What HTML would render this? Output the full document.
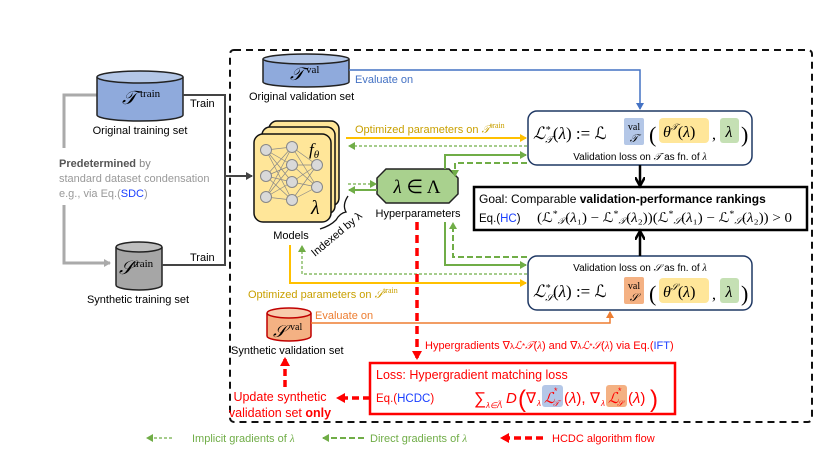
<!DOCTYPE html>
<html><head><meta charset="utf-8"><style>
html,body{margin:0;padding:0;background:#fff}
svg{display:block}
text{font-family:"Liberation Sans",sans-serif}
.m{font-family:"Liberation Serif",serif;font-style:italic}
.r{font-family:"Liberation Serif",serif}
</style></head><body>
<svg width="830" height="461" viewBox="0 0 830 461" xmlns="http://www.w3.org/2000/svg">
<defs>
<marker id="ak" markerWidth="8" markerHeight="8" refX="6" refY="4" orient="auto" markerUnits="userSpaceOnUse"><path d="M0,0 L7,4 L0,8 Z" fill="#444"/></marker>
<marker id="ag" markerWidth="8" markerHeight="8" refX="6" refY="4" orient="auto" markerUnits="userSpaceOnUse"><path d="M0,0 L7,4 L0,8 Z" fill="#aaa"/></marker>
<marker id="ab" markerWidth="8" markerHeight="8" refX="6" refY="4" orient="auto" markerUnits="userSpaceOnUse"><path d="M0,0 L7,4 L0,8 Z" fill="#4472c4"/></marker>
<marker id="ay" markerWidth="8" markerHeight="8" refX="6" refY="4" orient="auto" markerUnits="userSpaceOnUse"><path d="M0,0 L7,4 L0,8 Z" fill="#ffc000"/></marker>
<marker id="ao" markerWidth="8" markerHeight="8" refX="6" refY="4" orient="auto" markerUnits="userSpaceOnUse"><path d="M0,0 L7,4 L0,8 Z" fill="#ed7d31"/></marker>
<marker id="an" markerWidth="8" markerHeight="8" refX="6" refY="4" orient="auto" markerUnits="userSpaceOnUse"><path d="M0,0 L7,4 L0,8 Z" fill="#70ad47"/></marker>
<marker id="ar" markerWidth="10" markerHeight="10" refX="7" refY="5" orient="auto" markerUnits="userSpaceOnUse"><path d="M0,0 L9,5 L0,10 Z" fill="#ff0000"/></marker>
<marker id="abk" markerWidth="12" markerHeight="10" refX="8" refY="5" orient="auto" markerUnits="userSpaceOnUse"><path d="M0,0 L9,5 L0,10" fill="none" stroke="#000" stroke-width="2.5"/></marker>
</defs>

<rect x="230" y="50" width="582" height="372" rx="4" fill="none" stroke="#111" stroke-width="2" stroke-dasharray="7,5"/>

<path d="M97,95 H64 V148" fill="none" stroke="#aaa" stroke-width="3"/>
<path d="M64,205 V263 H110" fill="none" stroke="#aaa" stroke-width="3" marker-end="url(#ag)"/>
<text x="59" y="167" font-size="11" fill="#888"><tspan font-weight="bold" fill="#555">Predetermined</tspan> by</text>
<text x="59" y="182" font-size="11" fill="#999">standard dataset condensation</text>
<text x="59" y="197" font-size="11" fill="#999">e.g., via Eq.(<tspan fill="#1a3fff">SDC</tspan>)</text>

<path d="M97,77 V115 A43,6 0 0 0 183,115 V77" fill="#8faadc" stroke="#222" stroke-width="1.5"/>
<ellipse cx="140" cy="77" rx="43" ry="6" fill="#b4c7e7" stroke="#222" stroke-width="1.5"/>
<text x="122" y="104" class="m" font-size="19">𝒯</text><text x="140" y="97" class="r" font-size="11">train</text>
<text x="140" y="134" font-size="11" text-anchor="middle">Original training set</text>

<path d="M116,247 V285 A23,5 0 0 0 162,285 V247" fill="#a6a6a6" stroke="#222" stroke-width="1.5"/>
<ellipse cx="139" cy="247" rx="23" ry="5" fill="#bfbfbf" stroke="#222" stroke-width="1.5"/>
<text x="119" y="274" class="m" font-size="19">𝒮</text><text x="133" y="267" class="r" font-size="11">train</text>
<text x="138" y="303" font-size="11" text-anchor="middle">Synthetic training set</text>

<path d="M183,95 H225 V265 H162" fill="none" stroke="#444" stroke-width="2"/>
<path d="M225,176 H252" fill="none" stroke="#444" stroke-width="2" marker-end="url(#ak)"/>
<text x="190" y="107" font-size="11">Train</text>
<text x="190" y="261" font-size="11">Train</text>

<path d="M263,59 V82 A43,5 0 0 0 349,82 V59" fill="#8faadc" stroke="#222" stroke-width="1.5"/>
<ellipse cx="306" cy="59" rx="43" ry="5" fill="#b4c7e7" stroke="#222" stroke-width="1.5"/>
<text x="290" y="80" class="m" font-size="18">𝒯</text><text x="306" y="73" class="r" font-size="11">val</text>
<text x="249" y="100" font-size="11">Original validation set</text>
<path d="M349,70 H640 V109" fill="none" stroke="#4472c4" stroke-width="1.5" marker-end="url(#ab)"/>
<text x="355" y="83" font-size="11" fill="#4472c4">Evaluate on</text>

<rect x="269" y="121" width="70" height="85" rx="8" fill="#ffe699" stroke="#111" stroke-width="1.5"/>
<rect x="262" y="127" width="73" height="87" rx="8" fill="#ffe699" stroke="#111" stroke-width="1.5"/>
<rect x="254" y="134" width="77" height="88" rx="9" fill="#ffe699" stroke="#111" stroke-width="1.5"/>
<g stroke="#888" stroke-width="0.7">
<path d="M266,150 L292,147 M266,150 L292,165 M266,150 L292,182 M266,150 L292,200 M266,176 L292,147 M266,176 L292,165 M266,176 L292,182 M266,176 L292,200 M266,197 L292,147 M266,197 L292,165 M266,197 L292,182 M266,197 L292,200 M292,147 L317,165 M292,165 L317,165 M292,182 L317,165 M292,200 L317,165 M292,147 L317,187 M292,165 L317,187 M292,182 L317,187 M292,200 L317,187"/>
</g>
<g fill="#d9d9d9" stroke="#888">
<circle cx="266" cy="150" r="5.5"/><circle cx="266" cy="176" r="5.5"/><circle cx="266" cy="197" r="5.5"/>
<circle cx="292" cy="147" r="5.5"/><circle cx="292" cy="165" r="5.5"/><circle cx="292" cy="182" r="5.5"/><circle cx="292" cy="200" r="5.5"/>
<circle cx="317" cy="165" r="5.5"/><circle cx="317" cy="187" r="5.5"/>
</g>
<text x="309" y="155" class="m" font-size="17">f<tspan font-size="11" dy="3">θ</tspan></text>
<text x="311" y="214" class="m" font-size="20">λ</text>
<text x="291" y="239" font-size="11" text-anchor="middle">Models</text>
<path d="M320,229 Q330,226 336,220 Q340,213 346,212 Q342,205 348,196" fill="none" stroke="#111" stroke-width="1.3"/>
<text x="0" y="0" font-size="11" transform="translate(315,257) rotate(-40)">Indexed by λ</text>

<path d="M386,169 H449 L458,178 V194 L449,203 H386 L377,194 V178 Z" fill="#a9d18e" stroke="#222" stroke-width="1.5"/>
<text x="417" y="193" class="r" font-size="19" text-anchor="middle"><tspan font-style="italic">λ</tspan> ∈ Λ</text>
<text x="418" y="217" font-size="11" text-anchor="middle">Hyperparameters</text>

<path d="M348,184 H376" fill="none" stroke="#70ad47" stroke-width="1.2" stroke-dasharray="3,2" marker-end="url(#an)"/>
<path d="M377,190 H349" fill="none" stroke="#70ad47" stroke-width="2" marker-end="url(#an)"/>

<rect x="528" y="111" width="224" height="54" rx="9" fill="#fff" stroke="#1f3864" stroke-width="1.5"/>
<text x="533" y="139" class="m" font-size="17">ℒ<tspan font-size="10" dy="-6">*</tspan><tspan font-size="10" dx="-5" dy="10">𝒯</tspan><tspan font-style="normal" dy="-4">(</tspan>λ<tspan font-style="normal">) :=  ℒ</tspan></text>
<rect x="624" y="118" width="20" height="27" rx="2" fill="#b4c7e7"/>
<text x="634" y="130" class="r" font-size="10" text-anchor="middle">val</text>
<text x="634" y="142" class="m" font-size="11" text-anchor="middle">𝒯</text>
<text x="649" y="142" class="r" font-size="22">(</text>
<rect x="659" y="118" width="50" height="25" rx="4" fill="#ffe699"/>
<text x="663" y="137" class="m" font-size="16">θ<tspan font-size="9" dy="-7">𝒯</tspan><tspan font-style="normal" dy="7">(</tspan>λ<tspan font-style="normal">)</tspan></text>
<text x="712" y="139" class="r" font-size="16">,</text>
<rect x="720" y="118" width="19" height="25" rx="3" fill="#c5e0b4"/>
<text x="729" y="137" class="m" font-size="16" text-anchor="middle">λ</text>
<text x="741" y="142" class="r" font-size="22">)</text>
<text x="640" y="160" font-size="10" text-anchor="middle">Validation loss on <tspan font-family="Liberation Serif" font-style="italic">𝒯</tspan> as fn. of <tspan font-family="Liberation Serif" font-style="italic">λ</tspan></text>

<rect x="528" y="256" width="224" height="54" rx="9" fill="#fff" stroke="#1f3864" stroke-width="1.5"/>
<text x="640" y="271" font-size="10" text-anchor="middle">Validation loss on <tspan font-family="Liberation Serif" font-style="italic">𝒮</tspan> as fn. of <tspan font-family="Liberation Serif" font-style="italic">λ</tspan></text>
<text x="533" y="297" class="m" font-size="17">ℒ<tspan font-size="10" dy="-6">*</tspan><tspan font-size="10" dx="-5" dy="10">𝒮</tspan><tspan font-style="normal" dy="-4">(</tspan>λ<tspan font-style="normal">) :=  ℒ</tspan></text>
<rect x="624" y="277" width="20" height="27" rx="2" fill="#f4b183"/>
<text x="634" y="289" class="r" font-size="10" text-anchor="middle">val</text>
<text x="634" y="301" class="m" font-size="11" text-anchor="middle">𝒮</text>
<text x="649" y="301" class="r" font-size="22">(</text>
<rect x="659" y="278" width="50" height="25" rx="4" fill="#ffe699"/>
<text x="663" y="297" class="m" font-size="16">θ<tspan font-size="9" dy="-7">𝒮</tspan><tspan font-style="normal" dy="7">(</tspan>λ<tspan font-style="normal">)</tspan></text>
<text x="712" y="299" class="r" font-size="16">,</text>
<rect x="720" y="278" width="19" height="25" rx="3" fill="#c5e0b4"/>
<text x="729" y="297" class="m" font-size="16" text-anchor="middle">λ</text>
<text x="741" y="301" class="r" font-size="22">)</text>

<rect x="474" y="187" width="333" height="43" fill="#fff" stroke="#000" stroke-width="2.5"/>
<text x="479" y="203" font-size="12">Goal: Comparable <tspan font-weight="bold">validation-performance rankings</tspan></text>
<text x="479" y="222" font-size="11.5">Eq.(<tspan fill="#1a3fff">HC</tspan>)</text>
<text x="537" y="222" class="r" font-size="13.5" textLength="255" lengthAdjust="spacingAndGlyphs">(ℒ<tspan font-size="9" dy="-5">*</tspan><tspan font-size="9" font-style="italic" dy="7">𝒯</tspan><tspan dy="-2">(</tspan><tspan font-style="italic">λ</tspan>₁) − ℒ<tspan font-size="9" dy="-5">*</tspan><tspan font-size="9" font-style="italic" dy="7">𝒯</tspan><tspan dy="-2">(</tspan><tspan font-style="italic">λ</tspan>₂))(ℒ<tspan font-size="9" dy="-5">*</tspan><tspan font-size="9" font-style="italic" dy="7">𝒮</tspan><tspan dy="-2">(</tspan><tspan font-style="italic">λ</tspan>₁) − ℒ<tspan font-size="9" dy="-5">*</tspan><tspan font-size="9" font-style="italic" dy="7">𝒮</tspan><tspan dy="-2">(</tspan><tspan font-style="italic">λ</tspan>₂)) &gt; 0</text>
<path d="M640,165 V185" stroke="#000" stroke-width="2.5" marker-end="url(#abk)"/>
<path d="M640,256 V232" stroke="#000" stroke-width="2.5" marker-end="url(#abk)"/>

<path d="M346,138 H526" fill="none" stroke="#ffc000" stroke-width="2" marker-end="url(#ay)"/>
<text x="355" y="133" font-size="11" fill="#c9a000">Optimized parameters on <tspan font-family="Liberation Serif" font-style="italic">𝒯</tspan><tspan font-family="Liberation Serif" font-size="8" dy="-5">train</tspan></text>
<path d="M290,245 V283 H526" fill="none" stroke="#ffc000" stroke-width="2" marker-end="url(#ay)"/>
<text x="248" y="298" font-size="11" fill="#c9a000">Optimized parameters on <tspan font-family="Liberation Serif" font-style="italic">𝒮</tspan><tspan font-family="Liberation Serif" font-size="8" dy="-5">train</tspan></text>

<path d="M527,146 H349" fill="none" stroke="#70ad47" stroke-width="1.2" stroke-dasharray="3,2" marker-end="url(#an)"/>
<path d="M445,169 V155 H526" fill="none" stroke="#70ad47" stroke-width="2" marker-end="url(#an)"/>
<path d="M527,163 H455 V176" fill="none" stroke="#70ad47" stroke-width="2" stroke-dasharray="6,3" marker-end="url(#an)"/>
<path d="M445,222 V265 H526" fill="none" stroke="#70ad47" stroke-width="2" marker-end="url(#an)"/>
<path d="M527,257 H453 V223" fill="none" stroke="#70ad47" stroke-width="2" stroke-dasharray="6,3" marker-end="url(#an)"/>
<path d="M527,274 H302 V246" fill="none" stroke="#70ad47" stroke-width="1.2" stroke-dasharray="3,2" marker-end="url(#an)"/>

<path d="M267,313 V336 A22,5 0 0 0 311,336 V313" fill="#f4b183" stroke="#c00000" stroke-width="1.5"/>
<ellipse cx="289" cy="313" rx="22" ry="5" fill="#f8cbad" stroke="#c00000" stroke-width="1.5"/>
<text x="273" y="337" class="m" font-size="17">𝒮</text><text x="290" y="330" class="r" font-size="10">val</text>
<text x="231" y="354" font-size="11">Synthetic validation set</text>
<path d="M311,323 H610 V312" fill="none" stroke="#ed7d31" stroke-width="1.5" marker-end="url(#ao)"/>
<text x="315" y="319" font-size="11" fill="#ed7d31">Evaluate on</text>

<path d="M417,222 V358" fill="none" stroke="#ff0000" stroke-width="3.5" stroke-dasharray="8,5" marker-end="url(#ar)"/>
<text x="425" y="349" font-size="11" fill="#ff0000">Hypergradients ∇<tspan font-size="8">λ</tspan><tspan font-family="Liberation Serif" font-style="italic">ℒ</tspan><tspan font-size="8">*</tspan><tspan font-family="Liberation Serif" font-style="italic">𝒯</tspan>(<tspan font-family="Liberation Serif" font-style="italic">λ</tspan>) and ∇<tspan font-size="8">λ</tspan><tspan font-family="Liberation Serif" font-style="italic">ℒ</tspan><tspan font-size="8">*</tspan><tspan font-family="Liberation Serif" font-style="italic">𝒮</tspan>(<tspan font-family="Liberation Serif" font-style="italic">λ</tspan>) via Eq.(<tspan fill="#1a3fff">IFT</tspan>)</text>
<rect x="370" y="363" width="305" height="51" fill="#fff" stroke="#ff0000" stroke-width="2.5"/>
<text x="376" y="379" font-size="12.5" fill="#ff0000">Loss: Hypergradient matching loss</text>
<text x="376" y="402" font-size="11.5" fill="#ff0000">Eq.(<tspan fill="#1a3fff">HCDC</tspan>)</text>

<!-- HCDC formula -->
<g fill="#ff0000" font-family="Liberation Serif, serif">
<text x="474" y="404" font-size="17">∑</text>
<text x="486" y="408" font-size="8" font-style="italic">λ∈Λ̃</text>
<text x="506" y="403" font-size="15" font-style="italic">D</text>
<text x="518" y="407" font-size="24">(</text>
<text x="526" y="403" font-size="15">∇</text>
<text x="537" y="406" font-size="8" font-style="italic">λ</text>
<rect x="542" y="385" width="21" height="22" rx="3" fill="#b4c7e7"/>
<text x="544" y="403" font-size="15" font-style="italic">ℒ</text>
<text x="554" y="394" font-size="9">*</text>
<text x="553" y="406" font-size="8" font-style="italic">𝒯</text>
<text x="564" y="403" font-size="15">(<tspan font-style="italic">λ</tspan>),</text>
<text x="590" y="403" font-size="15">∇</text>
<text x="601" y="406" font-size="8" font-style="italic">λ</text>
<rect x="606" y="385" width="21" height="22" rx="3" fill="#f4b183"/>
<text x="608" y="403" font-size="15" font-style="italic">ℒ</text>
<text x="618" y="394" font-size="9">*</text>
<text x="617" y="406" font-size="8" font-style="italic">𝒮</text>
<text x="628" y="403" font-size="15">(<tspan font-style="italic">λ</tspan>)</text>
<text x="650" y="407" font-size="24">)</text>
</g>

<path d="M370,398 H338" fill="none" stroke="#ff0000" stroke-width="3.5" stroke-dasharray="7,4" marker-end="url(#ar)"/>
<path d="M285,387 V359" fill="none" stroke="#ff0000" stroke-width="3.5" stroke-dasharray="7,4" marker-end="url(#ar)"/>
<text x="280" y="401" font-size="12.5" fill="#ff0000" text-anchor="middle">Update synthetic</text>
<text x="280" y="417" font-size="12.5" fill="#ff0000" text-anchor="middle">validation set <tspan font-weight="bold">only</tspan></text>

<path d="M172,438 H147" fill="none" stroke="#70ad47" stroke-width="1.2" stroke-dasharray="3,2" marker-end="url(#an)"/>
<text x="192" y="442" font-size="11" fill="#70ad47">Implicit gradients of <tspan font-family="Liberation Serif" font-style="italic">λ</tspan></text>
<path d="M364,438 H323" fill="none" stroke="#70ad47" stroke-width="2" stroke-dasharray="6,3" marker-end="url(#an)"/>
<text x="370" y="442" font-size="11" fill="#70ad47">Direct gradients of <tspan font-family="Liberation Serif" font-style="italic">λ</tspan></text>
<path d="M543,438 H502" fill="none" stroke="#ff0000" stroke-width="3.5" stroke-dasharray="7,4" marker-end="url(#ar)"/>
<text x="552" y="442" font-size="11" fill="#ff0000">HCDC algorithm flow</text>
</svg>
</body></html>
